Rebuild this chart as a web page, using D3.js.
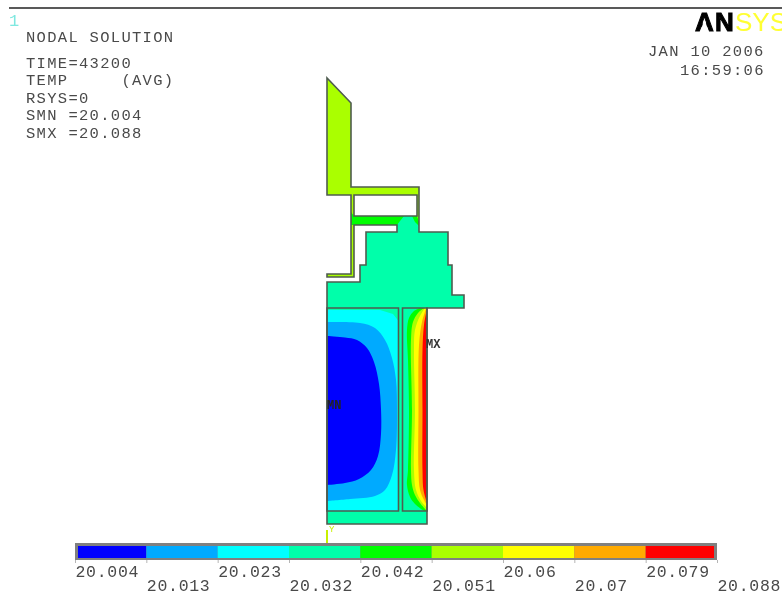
<!DOCTYPE html>
<html><head><meta charset="utf-8">
<script src="https://cdn.jsdelivr.net/npm/d3@7"></script>
<style>
html,body{margin:0;padding:0;background:#fff;overflow:hidden}
svg{display:block;filter:blur(0.55px)}
text{font-family:"Liberation Mono",monospace;fill:#4a4a4a}
</style></head><body><svg id="c" width="782" height="594"></svg>
<script>
// Legend
const tickLabels = ["20.004","20.013","20.023","20.032","20.042","20.051","20.06","20.07","20.079","20.088"];
const bandColors = ["#0000ff","#00aaff","#00ffff","#00ffaa","#00ff00","#aaff00","#ffff00","#ffaa00","#ff0000"];
// Header text
const infoLines = ["TIME=43200","TEMP     (AVG)","RSYS=0","SMN =20.004","SMX =20.088"];
const dateLines = ["JAN 10 2006","16:59:06"];
// Model geometry (u across, v up)
const outline = [[0,329],[0,446],[24,421],[24,337],[92,337],[92,292],[121,292],[121,259],[125,259],[125,229],[137,229],[137,216],[100,216],[100,0],[0,0],[0,242],[33,242],[33,259],[39,259],[39,292],[70,292],[70,299],[27,299],[27,247],[0,247],[0,250],[24,250],[24,329]];
const frameFill = [[0,446],[24,421],[24,337],[92,337],[92,292],[70,292],[70,299],[27,299],[27,247],[0,247],[0,250],[24,250],[24,329],[0,329]];
const windowHole = [[27,329],[90,329],[90,308],[27,308]];
const greenBand = [[24,312],[27,308],[90,308],[92,302],[92,292],[70,292],[70,299],[24,299]];
const tealBody = [[39,292],[70,292],[70,299],[73,303],[77,308],[85,308],[88,302],[92,298],[92,292],[121,292],[121,259],[125,259],[125,229],[137,229],[137,216],[0,216],[0,242],[33,242],[33,259],[39,259]];
const lowerBlock = [[0,0],[100,0],[100,216],[0,216]];
const leftCell = [[0,13],[71.5,13],[71.5,216],[0,216]];
const rightCell = [[75.5,13],[100,13],[100,216],[75.5,216]];
const leftCorner = [[0,216],[71.5,216],[71.5,203],[66,210],[53,214],[0,214]];
const contourLightBlue = [[0,202],[33,201],[48,196],[58,184],[65,166],[69,144],[70,114],[69,74],[65,49],[58,34],[48,28],[23,25],[0,23]];
const contourBlue = [[0,188],[18,186.5],[30,184],[40,176],[47,162],[52,140],[54,115],[54,90],[51,68],[44,54],[32,45],[18,41],[0,39]];
const contourGreen = [[93,216],[87,213],[82,206],[80,194],[81,164],[82,114],[81,54],[80,39],[83,27],[88,20],[97,13]];
const contourLime = [[97,216],[91,211],[86,202],[84,184],[85,114],[84,54],[85,39],[88,29],[93,21],[99,14]];
const contourYellow = [[98,216],[93,208],[88,194],[87,174],[88,114],[87,54],[89,34],[94,23],[100,16]];
const contourOrange = [[99,215],[95,202],[92,179],[91.5,114],[91.5,54],[93,34],[97,24],[100,19]];
const contourRed = [[100,215],[97,199],[95.5,174],[95.5,114],[95.5,54],[96.5,34],[100,21]];

const svg = d3.select("#c");
const x = d3.scaleLinear().domain([0,137]).range([327,464]);
const y = d3.scaleLinear().domain([0,446]).range([524,78]);
const poly = d3.line().x(d=>x(d[0])).y(d=>y(d[1]));
const closed = p => poly(p)+"Z";
const lineCol = "#4f5c4f";
const [cBlue,cLB,cCyan,cTeal,cGreen,cLime,cYellow,cOrange,cRed] = bandColors;

// frame rule
svg.append("line").attr("x1",9).attr("x2",782).attr("y1",8).attr("y2",8).attr("stroke","#222").attr("stroke-width",1.4);

// fills
const part = svg.append("g");
[[frameFill,cLime],[greenBand,cGreen],[tealBody,cTeal],[lowerBlock,cTeal],[leftCell,cCyan],[leftCorner,cTeal],[rightCell,cTeal]]
 .forEach(([p,c])=>part.append("path").attr("d",closed(p)).attr("fill",c));
part.append("path").attr("d",closed(windowHole)).attr("fill","#fff");

const areaLeft = d3.area().x0(x(0)).x1(d=>x(d[0])).y(d=>y(d[1])).curve(d3.curveCatmullRom);
[[contourLightBlue,cLB],[contourBlue,cBlue]].forEach(([p,c])=>part.append("path").attr("d",areaLeft(p)).attr("fill",c));
const areaRight = d3.area().x0(d=>x(d[0])).x1(x(100)).y(d=>y(d[1])).curve(d3.curveCatmullRom);
[[contourGreen,cGreen],[contourLime,cLime],[contourYellow,cYellow],[contourOrange,cOrange],[contourRed,cRed]]
 .forEach(([p,c])=>part.append("path").attr("d",areaRight(p)).attr("fill",c));

// outlines
[outline,windowHole,leftCell,rightCell].forEach(p=>part.append("path").attr("d",closed(p)).attr("fill","none").attr("stroke",lineCol).attr("stroke-width",1.6));

// MX / MN labels
svg.append("text").attr("x",426).attr("y",348).attr("font-size",12).attr("font-weight","bold").style("fill","#333").text("MX");
svg.append("text").attr("x",327).attr("y",409).attr("font-size",12).attr("font-weight","bold").style("fill","#222").text("MN");

// triad
svg.append("line").attr("x1",x(0)).attr("x2",x(0)).attr("y1",530).attr("y2",545).attr("stroke","#c8f000").attr("stroke-width",2);
svg.append("text").attr("x",329).attr("y",532).attr("font-size",9).style("fill","#c8f000").text("Y");

// header
svg.append("text").attr("x",9).attr("y",26).attr("font-size",17).style("fill","#7fe8e0").text("1");
const hdr = svg.append("g").attr("font-size",15.5).attr("letter-spacing",1.3);
hdr.append("text").attr("x",26).attr("y",42).text("NODAL SOLUTION");
hdr.selectAll(".i").data(infoLines).join("text").attr("class","i").attr("x",26)
  .attr("y",(d,i)=>67.5+i*17.6).style("white-space","pre").text(d=>d);
hdr.selectAll(".d").data(dateLines).join("text").attr("class","d")
  .attr("x",(d,i)=>i?680:648).attr("y",(d,i)=>56+i*19).text(d=>d);

// logo
const logo = svg.append("text").attr("x",695).attr("y",31).attr("font-size",26).style("font-family","'Liberation Sans',sans-serif");
logo.append("tspan").attr("font-weight","bold").attr("stroke","#000").attr("stroke-width",1).attr("letter-spacing",1.2).style("fill","#000").text("AN");
logo.append("tspan").style("fill","#ffff33").text("SYS");
svg.append("path").attr("d","M704.5,19L700.4,31.5L708.6,31.5Z").attr("fill","#fff");

// colour bar
const bx = d3.scalePoint().domain(tickLabels).range([75,717]);
const bar = svg.append("g");
bar.append("rect").attr("x",bx.range()[0]).attr("y",543).attr("width",bx.range()[1]-bx.range()[0]).attr("height",17).attr("fill","#808080");
bar.selectAll("rect.s").data(bandColors).join("rect").attr("class","s")
  .attr("x",(d,i)=>i?bx(tickLabels[i]):bx(tickLabels[0])+3)
  .attr("width",(d,i)=>bx(tickLabels[i+1])-bx(tickLabels[i])-((i===0||i===8)?3:0))
  .attr("y",546).attr("height",12).attr("fill",d=>d);
const ax = svg.append("g").attr("transform","translate(0,560)")
  .call(d3.axisBottom(bx).tickSize(3).tickPadding(0));
ax.select(".domain").remove();
ax.selectAll("line").attr("stroke","#b5b5b5");
ax.selectAll("text").attr("text-anchor","start").attr("dy",null)
  .attr("font-size",16.5).attr("letter-spacing",0.7).attr("font-family","Liberation Mono")
  .attr("y",(d,i)=>i%2?31:17).style("fill","#4a4a4a");
</script></body></html>
